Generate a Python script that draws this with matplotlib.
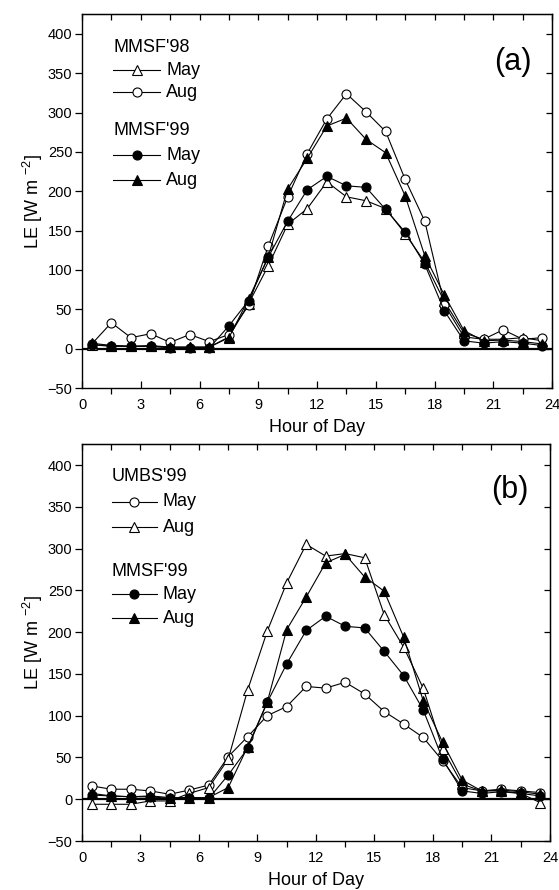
import numpy as np
import matplotlib
matplotlib.use('Agg')
import matplotlib.pyplot as plt
from matplotlib.ticker import MultipleLocator

plt.rcParams['font.family'] = ['Liberation Sans', 'DejaVu Sans']

# hour of day (half-hour centred bins)
hours = [0.5, 1.5, 2.5, 3.5, 4.5, 5.5, 6.5, 7.5, 8.5, 9.5, 10.5, 11.5,
         12.5, 13.5, 14.5, 15.5, 16.5, 17.5, 18.5, 19.5, 20.5, 21.5, 22.5, 23.5]

# panel (a)
mmsf98_may = [5, 3, 3, 3, 2, 2, 2, 15, 57, 105, 158, 178,
              212, 193, 188, 178, 146, 110, 60, 20, 12, 12, 14, 10]
mmsf98_aug = [6, 33, 14, 19, 8, 18, 9, 18, 55, 130, 193, 248,
              292, 324, 301, 276, 215, 162, 56, 15, 12, 24, 12, 14]
mmsf99_may = [5, 4, 3, 3, 1, 1, 1, 29, 61, 116, 162, 202,
              219, 207, 205, 177, 148, 107, 48, 10, 7, 9, 7, 4]
mmsf99_aug = [7, 4, 3, 4, 2, 2, 2, 14, 63, 116, 203, 242,
              283, 293, 266, 249, 194, 118, 68, 23, 10, 11, 9, 6]

# panel (b)
umbs99_may = [16, 12, 12, 10, 6, 11, 17, 51, 75, 100, 111, 135,
              133, 140, 126, 105, 90, 74, 46, 14, 10, 12, 10, 8]
umbs99_aug = [-6, -6, -6, -2, -2, 7, 14, 48, 131, 201, 259, 305,
              291, 294, 289, 221, 182, 133, 60, 18, 10, 10, 7, -4]

open_tri = dict(marker='^', mfc='white', mec='black')
open_circ = dict(marker='o', mfc='white', mec='black')
full_circ = dict(marker='o', mfc='black', mec='black')
full_tri = dict(marker='^', mfc='black', mec='black')

line_kw = dict(color='black', lw=0.8, ms=6.5, mew=0.8)
txt_size = 13


def style_axes(ax):
    ax.set_xlim(0, 24)
    ax.set_ylim(-50, 425)
    ax.xaxis.set_major_locator(MultipleLocator(3))
    ax.xaxis.set_minor_locator(MultipleLocator(1.5))
    ax.yaxis.set_major_locator(MultipleLocator(50))
    ax.tick_params(axis='x', which='major', direction='in', length=5,
                   width=0.9, labelsize=10.5, pad=7)
    ax.tick_params(axis='x', which='minor', direction='out', length=4,
                   width=0.9)
    ax.tick_params(axis='y', which='major', direction='out', length=5,
                   width=0.9, labelsize=10.5, pad=2)
    for s in ax.spines.values():
        s.set_linewidth(1.0)
    top = ax.secondary_xaxis('top')
    top.xaxis.set_major_locator(MultipleLocator(3))
    top.xaxis.set_minor_locator(MultipleLocator(1.5))
    top.tick_params(which='both', direction='in', length=4, width=0.9,
                    labeltop=False)
    right = ax.secondary_yaxis('right')
    right.yaxis.set_major_locator(MultipleLocator(50))
    right.tick_params(which='both', direction='in', length=4, width=0.9,
                      labelright=False)
    ax.axhline(0, color='black', lw=1.6, zorder=1)
    ax.set_xlabel('Hour of Day', fontsize=txt_size, labelpad=5)
    ax.set_ylabel(r'LE [W m $^{\mathregular{-2}}$]', fontsize=txt_size,
                  labelpad=2)


def legend_entry(ax, x0, x1, y, text, style):
    ax.plot([x0, x1], [y, y], transform=ax.transAxes, clip_on=False,
            color='black', lw=0.8)
    ax.plot([(x0 + x1) / 2], [y], transform=ax.transAxes, clip_on=False,
            ls='none', ms=6.5, mew=0.8, **style)
    ax.text(x1 + 0.013, y, text, transform=ax.transAxes, fontsize=txt_size,
            va='center', ha='left')


fig = plt.figure(figsize=(5.59, 8.9), dpi=100)

# ---- panel (a)
ax1 = fig.add_axes([0.1467, 0.564, 0.841, 0.420])
ax1.plot(hours, mmsf98_may, **open_tri, **line_kw, zorder=3)
ax1.plot(hours, mmsf98_aug, **open_circ, **line_kw, zorder=3)
ax1.plot(hours, mmsf99_aug, **full_tri, **line_kw, zorder=4)
ax1.plot(hours, mmsf99_may, **full_circ, **line_kw, zorder=4)
style_axes(ax1)

ax1.text(0.066, 0.912, "MMSF'98", transform=ax1.transAxes, fontsize=txt_size,
         va='center', ha='left')
legend_entry(ax1, 0.066, 0.166, 0.850, 'May', open_tri)
legend_entry(ax1, 0.066, 0.166, 0.791, 'Aug', open_circ)
ax1.text(0.066, 0.690, "MMSF'99", transform=ax1.transAxes, fontsize=txt_size,
         va='center', ha='left')
legend_entry(ax1, 0.066, 0.166, 0.623, 'May', full_circ)
legend_entry(ax1, 0.066, 0.166, 0.556, 'Aug', full_tri)
ax1.text(0.917, 0.872, '(a)', transform=ax1.transAxes, fontsize=22,
         va='center', ha='center')

# ---- panel (b)
ax2 = fig.add_axes([0.1467, 0.055, 0.837, 0.446])
ax2.plot(hours, umbs99_may, **open_circ, **line_kw, zorder=3)
ax2.plot(hours, umbs99_aug, **open_tri, **line_kw, zorder=3)
ax2.plot(hours, mmsf99_aug, **full_tri, **line_kw, zorder=4)
ax2.plot(hours, mmsf99_may, **full_circ, **line_kw, zorder=4)
style_axes(ax2)

ax2.text(0.064, 0.918, "UMBS'99", transform=ax2.transAxes, fontsize=txt_size,
         va='center', ha='left')
legend_entry(ax2, 0.064, 0.160, 0.855, 'May', open_circ)
legend_entry(ax2, 0.064, 0.160, 0.791, 'Aug', open_tri)
ax2.text(0.064, 0.678, "MMSF'99", transform=ax2.transAxes, fontsize=txt_size,
         va='center', ha='left')
legend_entry(ax2, 0.064, 0.160, 0.622, 'May', full_circ)
legend_entry(ax2, 0.064, 0.160, 0.561, 'Aug', full_tri)
ax2.text(0.915, 0.884, '(b)', transform=ax2.transAxes, fontsize=22,
         va='center', ha='center')

fig.savefig('out.png', dpi=100)
